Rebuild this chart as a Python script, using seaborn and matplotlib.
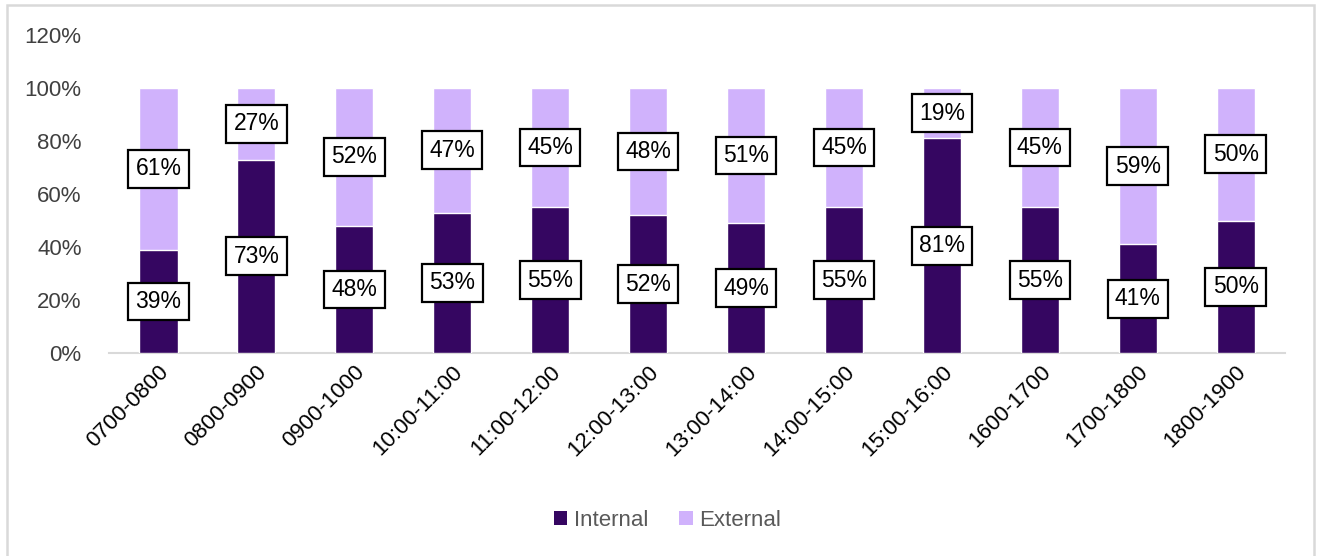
import matplotlib
matplotlib.use("Agg")
import matplotlib.pyplot as plt
import seaborn as sns
import numpy as np
import pandas as pd
from matplotlib.patches import Patch, Rectangle
from matplotlib.ticker import MultipleLocator, FuncFormatter

# Share of requests by time slot
slots = ["0700-0800", "0800-0900", "0900-1000", "10:00-11:00", "11:00-12:00",
         "12:00-13:00", "13:00-14:00", "14:00-15:00", "15:00-16:00",
         "1600-1700", "1700-1800", "1800-1900"]
internal = [39, 73, 48, 53, 55, 52, 49, 55, 81, 55, 41, 50]
external = [61, 27, 52, 47, 45, 48, 51, 45, 19, 45, 59, 50]

series_names = ["Internal", "External"]
colors = {"Internal": "#350661", "External": "#D0B2FC"}

sns.set_theme(style="white")
plt.rcParams["font.family"] = ["Liberation Sans", "DejaVu Sans"]

df = pd.DataFrame({"slot": slots, "Internal": internal, "External": external})
df["Total"] = df["Internal"] + df["External"]

fig = plt.figure(figsize=(13.19, 5.56), dpi=100)
ax = fig.add_axes([0.083, 0.365, 0.891, 0.572])

# Stacked bars: full height in the light colour, internal share over it
sns.barplot(data=df, x="slot", y="Total", color=colors["External"],
            width=0.39, saturation=1, ax=ax, zorder=2)
sns.barplot(data=df, x="slot", y="Internal", color=colors["Internal"],
            width=0.39, saturation=1, ax=ax, zorder=3)

box = dict(boxstyle="square,pad=0.32", facecolor="white", edgecolor="black", linewidth=1.6)
for i, (a, b) in enumerate(zip(internal, external)):
    ax.text(i, a / 2, f"{a}%", ha="center", va="center", fontsize=16.5,
            color="black", bbox=box, zorder=5)
    ax.text(i, a + b / 2, f"{b}%", ha="center", va="center", fontsize=16.5,
            color="black", bbox=box, zorder=5)

ax.set_ylim(0, 120)
ax.set_xlim(-0.5, len(slots) - 0.5)
ax.yaxis.set_major_locator(MultipleLocator(20))
ax.yaxis.set_major_formatter(FuncFormatter(lambda v, p: f"{v:.0f}%"))
ax.set_xlabel("")
ax.set_ylabel("")
ax.tick_params(axis="y", labelsize=16, labelcolor="#404040", length=0, pad=20)
ax.tick_params(axis="x", labelsize=16, labelcolor="black", length=0, pad=6)
for lbl in ax.get_xticklabels():
    lbl.set_rotation(45)
    lbl.set_ha("right")
    lbl.set_rotation_mode("anchor")

for side in ["top", "right", "left"]:
    ax.spines[side].set_visible(False)
ax.spines["bottom"].set_color("#d9d9d9")
ax.spines["bottom"].set_linewidth(1.5)
ax.grid(False)

handles = [Patch(facecolor=colors[n], edgecolor="none", label=n) for n in series_names]
fig.legend(handles=handles, loc="center", bbox_to_anchor=(0.506, 0.064), ncol=2,
           frameon=False, fontsize=16, handlelength=0.6, handleheight=0.6,
           handletextpad=0.3, columnspacing=1.4, labelcolor="#595959")

# Chart frame
fig.patches.append(Rectangle((7 / 1319, -0.01), 1307 / 1319, 1 - 5 / 556 + 0.01,
                             transform=fig.transFigure, fill=False,
                             edgecolor="#d9d9d9", linewidth=1.8))

fig.savefig("out.png", dpi=100, facecolor="white")
